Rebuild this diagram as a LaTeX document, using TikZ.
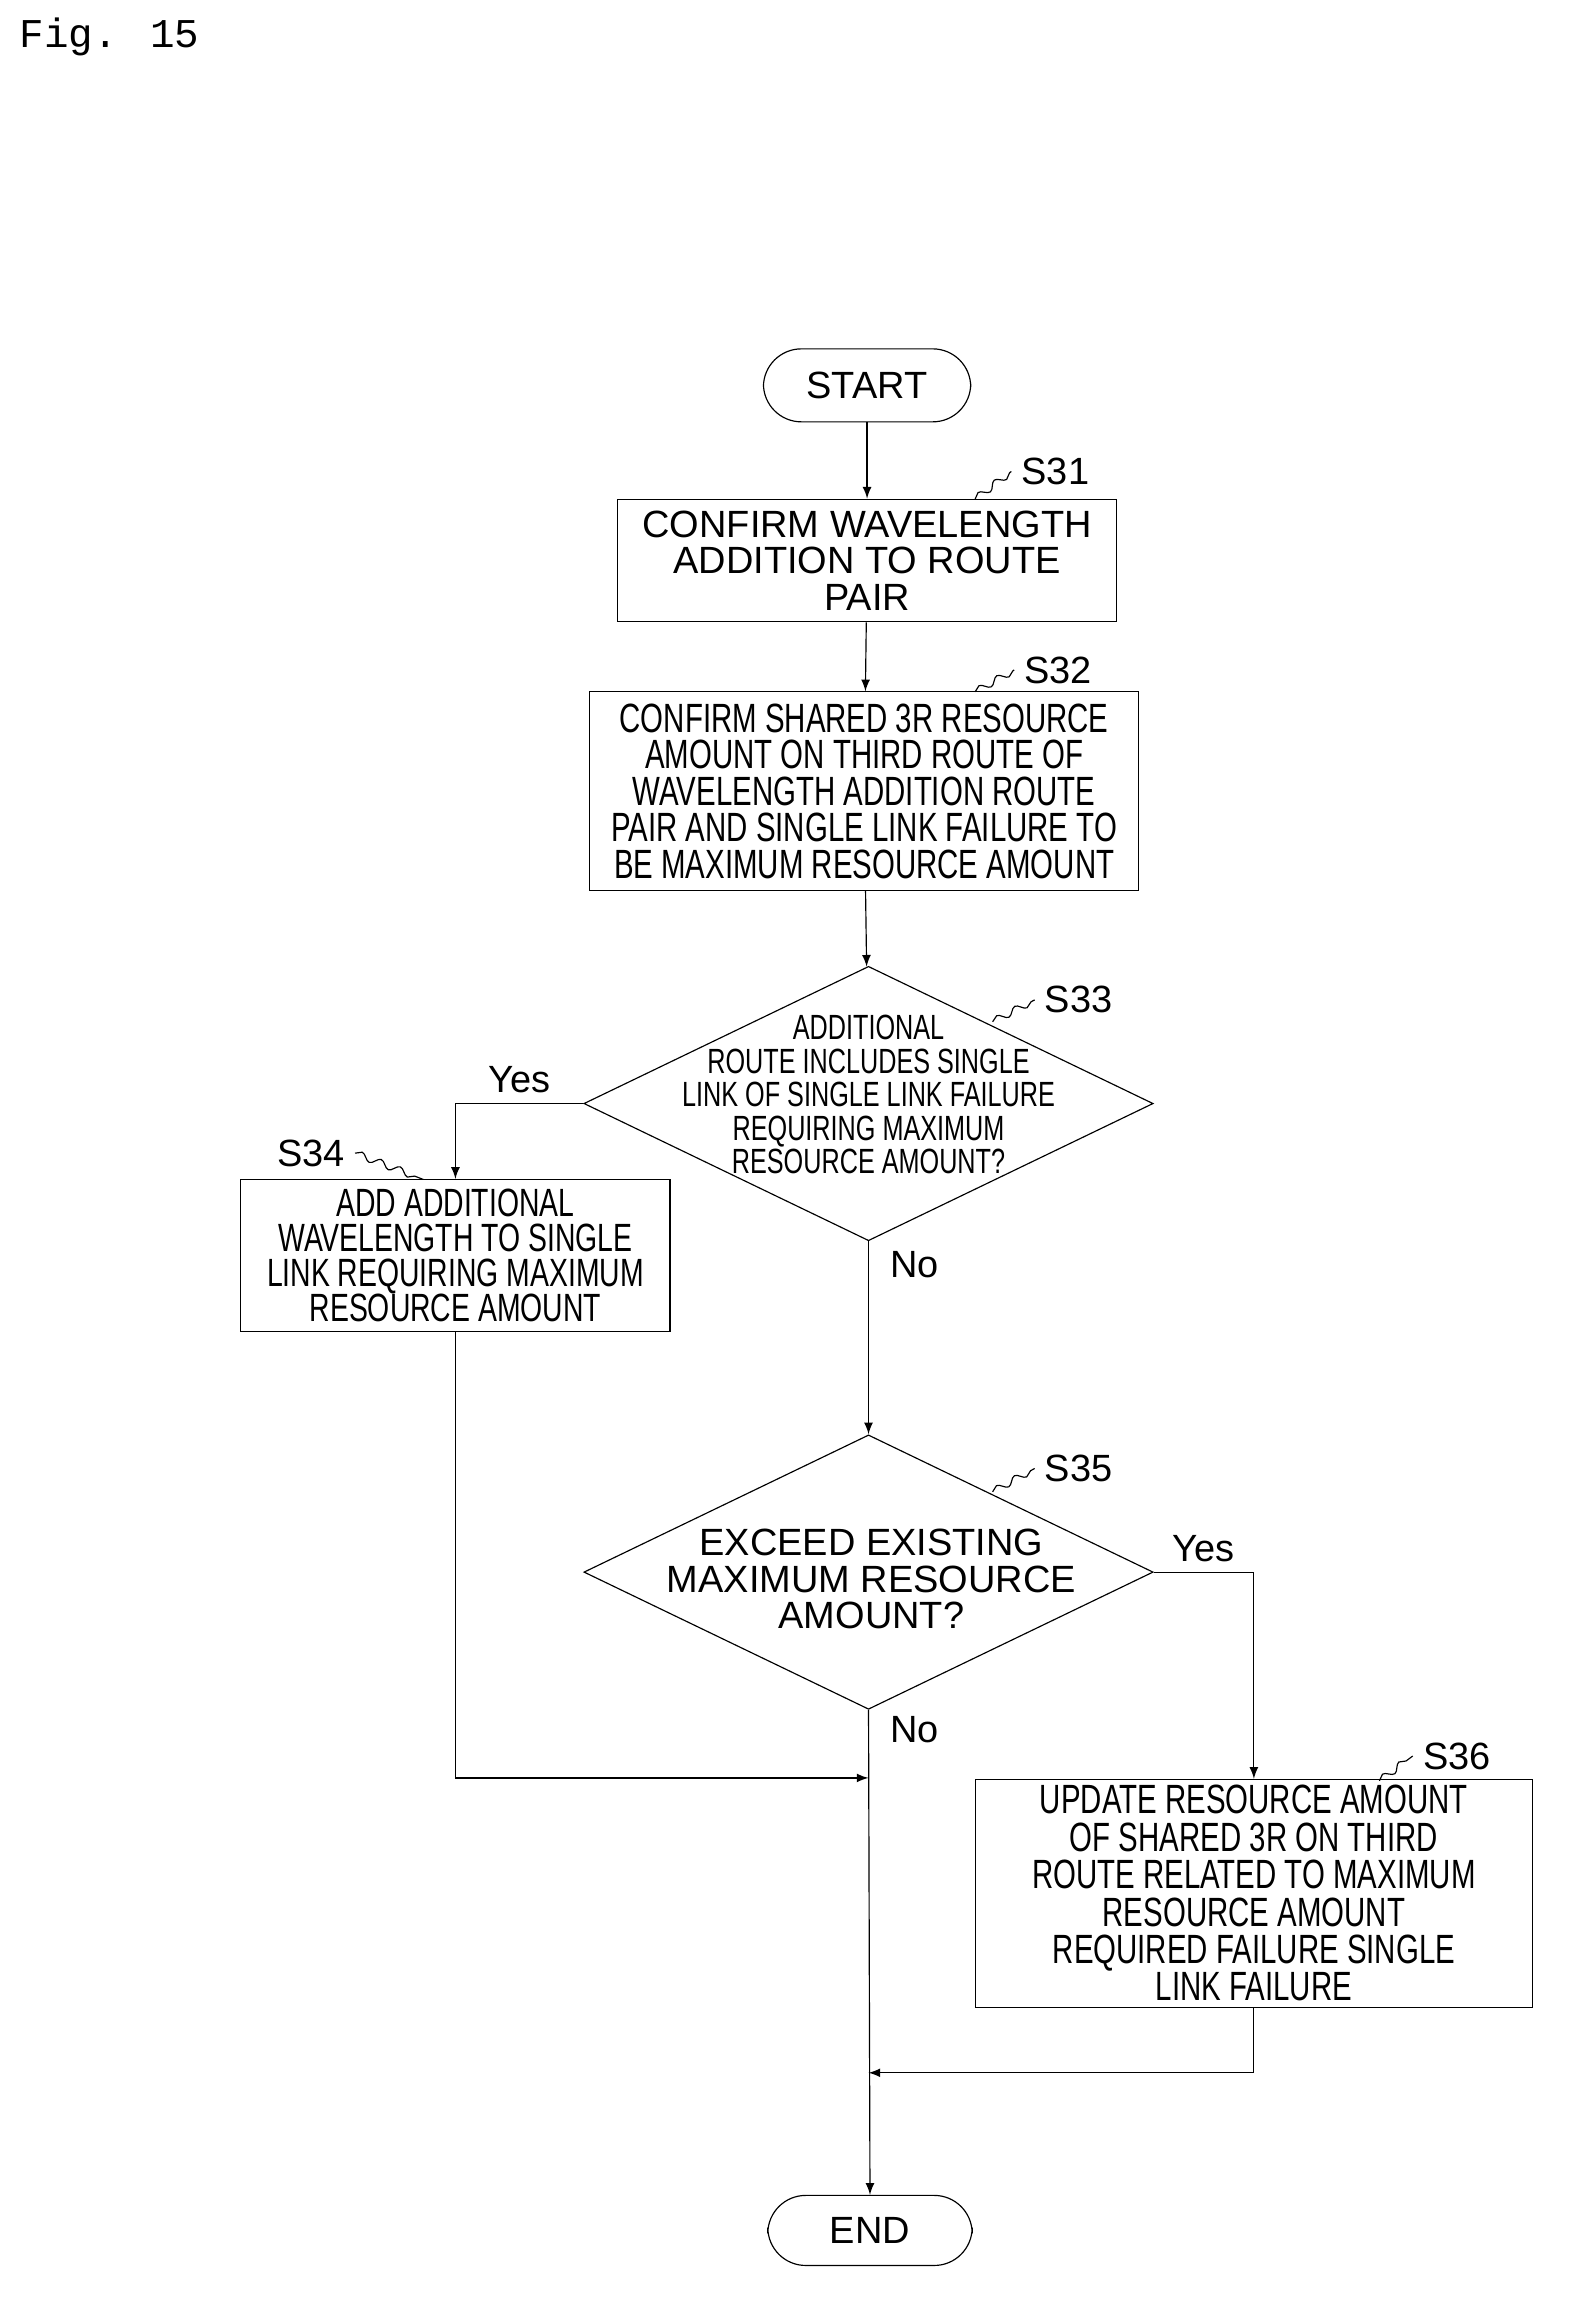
\documentclass[tikz,border=0pt]{standalone}
\usepackage{fontspec}
\setmainfont{Liberation Sans}
\newfontfamily\narrowfont{Liberation Sans}[FakeStretch=0.72]
\newfontfamily\monofont{Liberation Mono}
\usetikzlibrary{shapes.geometric,decorations.pathmorphing}
\begin{document}
\begin{tikzpicture}[x=0.5pt,y=-0.5pt,>=latex,
    every node/.style={font=\fontsize{13}{12.5}\selectfont,align=center},
    term/.style={draw,rounded corners=13pt,minimum width=71pt,minimum height=25pt},
    proc/.style={draw,inner sep=1pt},
    dia/.style={draw,diamond,inner sep=0pt},
    flow/.style={->,thin},
    tag/.style={decorate,decoration={snake,amplitude=1.2pt,segment length=7pt}}]
    \useasboundingbox (0,0) rectangle (1080,1588);
    \node[font=\monofont\fontsize{14}{14}\selectfont] (fig) at (75,25) {Fig. 15};

    \node[term] (start) at (594,264) {START};
    \node[proc,minimum width=171pt,minimum height=42pt] (s31) at (594,384)
        {CONFIRM WAVELENGTH\\ADDITION TO ROUTE\\PAIR};
    \node[proc,minimum width=188pt,minimum height=68pt,font=\narrowfont\fontsize{14}{12.5}\selectfont] (s32) at (592,542)
        {CONFIRM SHARED 3R RESOURCE\\AMOUNT ON THIRD ROUTE OF\\WAVELENGTH ADDITION ROUTE\\PAIR AND SINGLE LINK FAILURE TO\\BE MAXIMUM RESOURCE AMOUNT};
    \node[dia,minimum width=195pt,minimum height=94pt] (s33) at (595,756) {};
    \node[font=\narrowfont\fontsize{12}{11.5}\selectfont] (t33) at (595,750)
        {ADDITIONAL\\ROUTE INCLUDES SINGLE\\LINK OF SINGLE LINK FAILURE\\REQUIRING MAXIMUM\\RESOURCE AMOUNT?};
    \node[proc,minimum width=147pt,minimum height=52pt,font=\narrowfont\fontsize{13.5}{12}\selectfont] (s34) at (312,860)
        {ADD ADDITIONAL\\WAVELENGTH TO SINGLE\\LINK REQUIRING MAXIMUM\\RESOURCE AMOUNT};
    \node[dia,minimum width=195pt,minimum height=94pt] (s35) at (595,1077) {};
    \node (t35) at (597,1082) {EXCEED EXISTING\\MAXIMUM RESOURCE\\AMOUNT?};
    \node[proc,minimum width=191pt,minimum height=78pt,font=\narrowfont\fontsize{14}{12.8}\selectfont] (s36) at (859,1297)
        {UPDATE RESOURCE AMOUNT\\OF SHARED 3R ON THIRD\\ROUTE RELATED TO MAXIMUM\\RESOURCE AMOUNT\\REQUIRED FAILURE SINGLE\\LINK FAILURE};
    \node[term,minimum width=70pt,minimum height=24pt] (end) at (596,1528) {END};

    % merge points
    \coordinate (m1) at (595,1218);
    \coordinate (m2) at (595,1420);

    \draw[flow] (start) -- (s31);
    \draw[flow] (s31) -- (s32);
    \draw[flow] (s32) -- (s33);
    \draw[flow] (s33.west) -| (s34.north) node[pos=0.25,above] (y1) {Yes};
    \draw[flow] (s33.south) -- (s35.north) node[pos=0.12,right=4pt] (n1) {No};
    \draw[flow] (s34.south) |- (m1);
    \draw[flow] (s35.east) -| (s36.north) node[pos=0.25,above] (y2) {Yes};
    \draw[flow] (s36.south) |- (m2);
    \draw[flow] (s35.south) -- (end.north) node[pos=0.04,right=4pt] (n2) {No};

    % step tags
    \node (l31) at (723,323) {S31};
    \node (l32) at (725,459) {S32};
    \node (l33) at (739,685) {S33};
    \node (l34) at (213,790) {S34};
    \node (l35) at (739,1006) {S35};
    \node (l36) at (998,1203) {S36};
    \draw[tag] (668,342) -- (l31.west);
    \draw[tag] (668,474) -- (l32.west);
    \draw[tag] (680,700) -- (l33.west);
    \draw[tag] (l34.east) -- (290,808);
    \draw[tag] (680,1022) -- (l35.west);
    \draw[tag] (945,1220) -- (l36.west);
\end{tikzpicture}
\end{document}
